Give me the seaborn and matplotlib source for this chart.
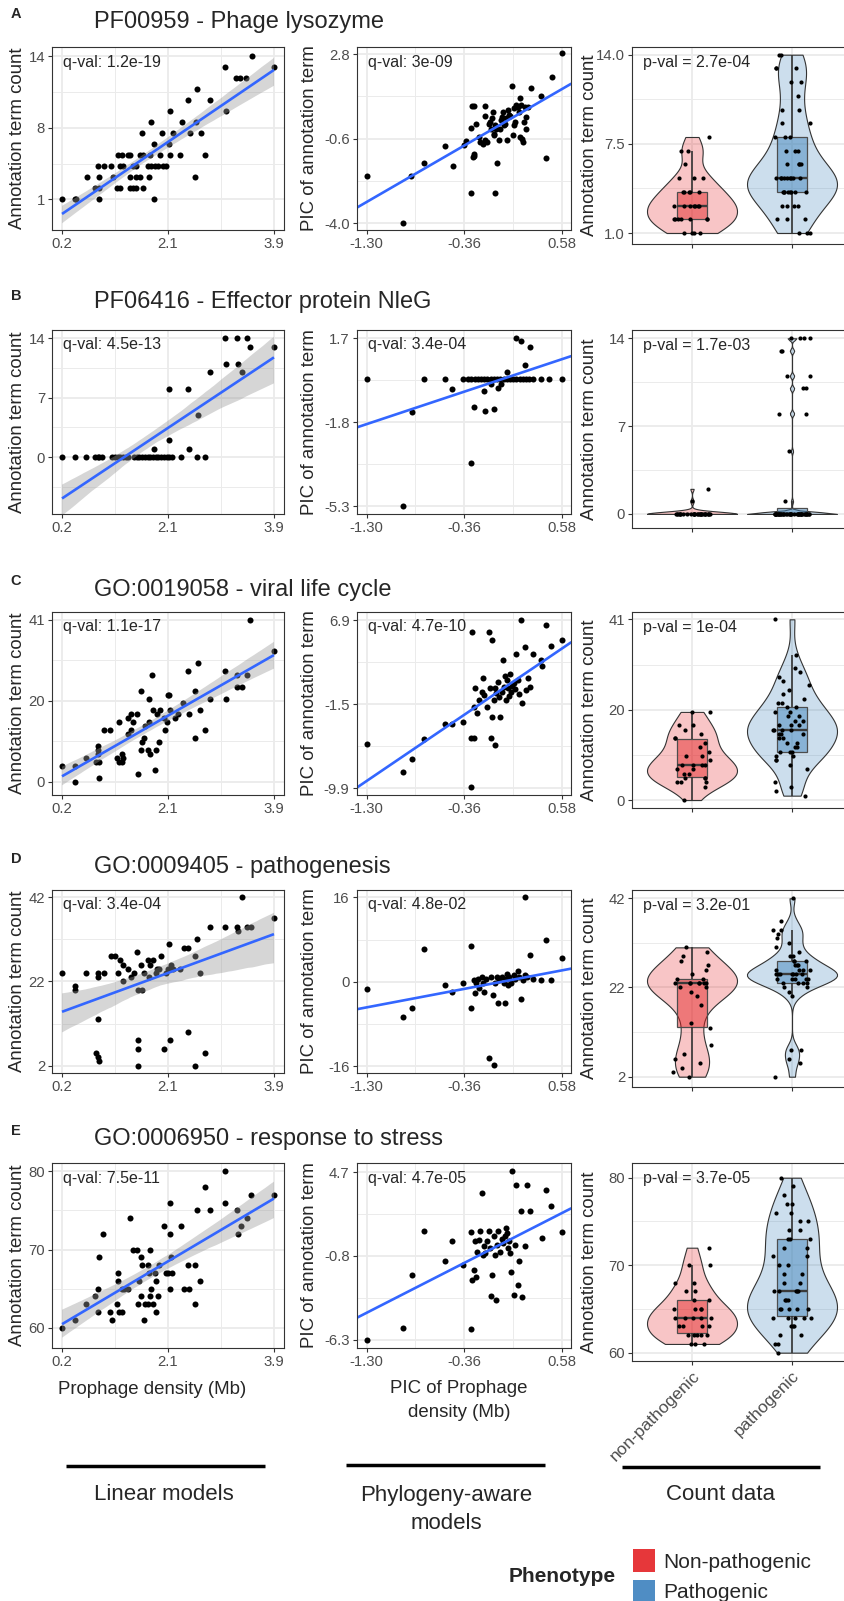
import numpy as np
import pandas as pd
import matplotlib
matplotlib.use("Agg")
import matplotlib.pyplot as plt
import matplotlib.colors as mcolors
from matplotlib.lines import Line2D
from matplotlib.patches import Rectangle
import seaborn as sns

# ---------------------------------------------------------------- data
TITLES = ["PF00959 - Phage lysozyme", "PF06416 - Effector protein NleG",
          "GO:0019058 - viral life cycle", "GO:0009405 - pathogenesis",
          "GO:0006950 - response to stress"]
LETTERS = ["A", "B", "C", "D", "E"]
Q_LIN = ["q-val: 1.2e-19", "q-val: 4.5e-13", "q-val: 1.1e-17", "q-val: 3.4e-04", "q-val: 7.5e-11"]
Q_PIC = ["q-val: 3e-09", "q-val: 3.4e-04", "q-val: 4.7e-10", "q-val: 4.8e-02", "q-val: 4.7e-05"]
P_CNT = ["p-val = 2.7e-04", "p-val = 1.7e-03", "p-val = 1e-04", "p-val = 3.2e-01", "p-val = 3.7e-05"]
PHENO = ["non-pathogenic", "pathogenic"]

LIN_XTICKS = [0.2, 2.05, 3.9]
LIN_XLABELS = ["0.2", "2.1", "3.9"]
PIC_XTICKS = [-1.30, -0.36, 0.58]
PIC_XLABELS = ["-1.30", "-0.36", "0.58"]
LIN_YTICKS = [[1, 7.5, 14], [0, 7, 14], [0, 20.5, 41], [2, 22, 42], [60, 70, 80]]
LIN_YLABELS = [["1", "8", "14"], ["0", "7", "14"], ["0", "20", "41"], ["2", "22", "42"], ["60", "70", "80"]]
PIC_YTICKS = [[-4.0, -0.6, 2.8], [-5.3, -1.8, 1.7], [-9.9, -1.5, 6.9], [-16, 0, 16], [-6.3, -0.8, 4.7]]
PIC_YLABELS = [["-4.0", "-0.6", "2.8"], ["-5.3", "-1.8", "1.7"], ["-9.9", "-1.5", "6.9"],
               ["-16", "0", "16"], ["-6.3", "-0.8", "4.7"]]
CNT_YTICKS = [[1, 7.5, 14], [0, 7, 14], [0, 20.5, 41], [2, 22, 42], [60, 70, 80]]
CNT_YLABELS = [["1.0", "7.5", "14.0"], ["0", "7", "14"], ["0", "20", "41"], ["2", "22", "42"], ["60", "70", "80"]]

# Linear models: prophage density vs annotation term count
A1_x = [0.20, 0.42, 0.44, 0.84, 1.80,
        0.77, 0.85, 1.16, 1.22, 1.39, 1.44, 1.50, 1.62,
        0.63, 0.85, 1.09, 1.39, 1.50, 1.56, 1.72, 2.52,
        0.82, 0.93, 1.06, 1.21, 1.27, 1.44, 1.50, 1.70, 1.76, 1.82, 1.88, 1.97, 2.02,
        1.18, 1.24, 1.35, 1.38, 1.56, 1.62, 1.73, 1.91, 2.08, 2.26, 2.69,
        1.80, 2.07, 1.59, 1.95, 2.13, 2.43, 2.62, 1.76, 2.29, 2.54,
        2.08, 3.07, 2.40, 2.78, 2.56, 3.24, 3.31, 3.42, 3.04, 3.90, 3.51]
A1_y = ([1] * 5 + [2] * 8 + [3] * 8 + [4] * 13 + [5] * 11 + [6] * 2 + [7] * 5 + [8] * 3 +
        [9] * 2 + [10] * 2 + [11] + [12] * 3 + [13] * 2 + [14])

B1_x = [0.20, 0.42, 0.61, 0.78, 0.82, 0.85, 0.89, 1.08, 1.13, 1.17, 1.22, 1.27, 1.32, 1.36,
        1.46, 1.51, 1.55, 1.60, 1.65, 1.70, 1.74, 1.79, 1.84, 1.88, 1.93, 1.98, 2.03, 2.07,
        2.12, 2.28, 2.55, 2.69,
        1.81, 2.42, 2.07, 2.57, 2.07, 2.40, 2.78, 3.35, 3.07, 3.28, 3.49, 3.90, 3.05, 3.26, 3.43]
B1_y = [0] * 32 + [1, 1, 2, 5, 8, 8, 10, 10, 11, 11, 13, 13, 14, 14, 14]

C1_x = [0.20, 0.42, 0.42, 0.61, 0.80, 0.82, 0.82, 0.82, 0.84, 0.84, 0.94, 1.03, 1.16, 1.19,
        1.25, 1.25, 1.27, 1.19, 1.35, 1.36, 1.41, 1.41, 1.44, 1.51, 1.53, 1.57, 1.57, 1.60,
        1.63, 1.65, 1.70, 1.72, 1.72, 1.74, 1.77, 1.79, 1.82, 1.84, 1.86, 1.89, 1.91, 1.98,
        1.99, 2.03, 2.05, 2.07, 2.08, 2.17, 2.22, 2.31, 2.40, 2.42, 2.52, 2.52, 2.58, 2.61,
        2.69, 2.78, 3.05, 3.07, 3.26, 3.26, 3.35, 3.43, 3.49, 3.90]
C1_y = [4, 4, 0, 6, 5, 9, 8, 7, 5, 1, 13, 13, 6, 5, 5, 7, 6, 15, 12, 16, 17, 13, 15, 17, 2, 8,
        23, 10, 11, 14, 8, 21, 15, 7, 27, 18, 3, 8, 17, 10, 18, 16, 13, 15, 22, 22, 18, 16,
        17, 20, 28, 17, 23, 11, 30, 18, 13, 21, 28, 21, 27, 24, 24, 27, 41, 33]

D1_x = [0.20, 0.42, 0.42, 0.61, 0.82, 0.82, 0.82, 0.80, 0.82, 0.84, 0.94, 1.06, 1.13, 1.17,
        1.22, 1.27, 1.27, 1.36, 1.41, 1.46, 1.51, 1.53, 1.53, 1.53, 1.53, 1.57, 1.60, 1.63,
        1.70, 1.72, 1.74, 1.79, 1.84, 1.86, 1.89, 1.93, 1.98, 2.01, 2.05, 2.07, 2.08, 2.10,
        2.14, 2.26, 2.33, 2.40, 2.40, 2.52, 2.52, 2.56, 2.61, 2.69, 2.78, 3.05, 3.26, 3.28,
        3.35, 3.43, 3.50, 3.90]
D1_y = [24, 21, 20, 24, 24, 23, 13, 5, 4, 3, 24, 28, 28, 24, 27, 26, 22, 25, 23, 24, 29, 20,
        8, 6, 2, 26, 20, 24, 27, 23, 26, 27, 24, 25, 25, 28, 6, 24, 25, 31, 8, 26, 25, 25,
        30, 30, 10, 28, 2, 32, 24, 5, 35, 35, 35, 34, 42, 35, 35, 37]

E1_x = [0.20, 0.42, 0.61, 0.78, 0.82, 0.82, 0.84, 0.91, 1.03, 1.08, 1.16, 1.17, 1.17, 1.19,
        1.25, 1.25, 1.29, 1.35, 1.38, 1.44, 1.51, 1.53, 1.55, 1.57, 1.57, 1.60, 1.63, 1.65,
        1.70, 1.70, 1.72, 1.74, 1.74, 1.76, 1.79, 1.82, 1.84, 1.84, 1.87, 1.89, 1.98, 2.01,
        2.05, 2.08, 2.08, 2.08, 2.10, 2.12, 2.27, 2.33, 2.40, 2.42, 2.52, 2.52, 2.56, 2.61,
        2.69, 2.78, 3.05, 3.05, 3.26, 3.28, 3.33, 3.43, 3.50, 3.90]
E1_y = [60, 61, 63, 64, 65, 62, 69, 72, 62, 61, 63, 66, 67, 62, 62, 65, 65, 65, 74, 70, 70,
        63, 66, 64, 69, 68, 61, 63, 63, 68, 67, 64, 70, 65, 63, 67, 66, 62, 64, 68, 73, 67,
        67, 65, 72, 76, 69, 67, 73, 65, 68, 65, 68, 63, 75, 66, 78, 75, 80, 76, 75, 72, 73,
        74, 77, 77]

# Phylogeny-aware models: PICs
A2_x = [-1.30, -0.953, -0.872, -0.747, -0.544, -0.474, -0.367, -0.342, -0.297, -0.277, -0.271,
        -0.265, -0.245, -0.287, -0.265, -0.297, -0.223, -0.207, -0.181, -0.165, -0.165, -0.159,
        -0.142, -0.126, -0.110, -0.104, -0.094, -0.085, -0.078, -0.072, -0.062, -0.052, -0.046,
        -0.065, -0.030, -0.020, -0.007, 0.002, 0.009, 0.018, 0.034, 0.044, 0.050, 0.057, 0.067,
        0.083, 0.099, 0.108, 0.115, 0.121, 0.131, 0.141, 0.153, 0.163, 0.173, 0.179, 0.186,
        0.195, 0.202, 0.211, 0.221, 0.231, 0.237, 0.250, 0.282, 0.372, 0.421, 0.485, 0.582]
A2_y = [-2.10, -4.00, -2.10, -1.58, -0.90, -1.69, -0.87, -0.71, -0.15, -1.35, -1.28, -1.21,
        0.01, 0.72, 0.72, -2.80, -0.53, -0.73, -0.80, 0.31, 0.72, -0.67, -0.73, 0.01, 0.08,
        -0.19, 0.22, 0.49, -0.39, -0.46, -0.05, -0.19, -1.59, -2.80, -0.67, -0.19, 0.15, 0.29,
        0.49, -0.05, 0.01, 0.24, -0.67, 0.56, 0.35, 0.33, 1.51, -0.46, -0.05, 0.63, 0.08, 0.76,
        0.69, 0.49, -0.53, 1.03, 0.76, -0.60, -0.73, 0.08, 0.69, 0.29, -0.19, 0.69, 1.44, 1.10,
        -1.39, 1.88, 2.84]

B2_x = [-1.30, -0.747, -0.551, -0.375, -0.324, -0.293, -0.262, -0.231, -0.200, -0.169, -0.138,
        -0.107, -0.076, -0.045, -0.014, 0.017, 0.048, 0.079, 0.110, 0.141, 0.172, 0.203, 0.234,
        0.265, 0.296, 0.374, 0.451, 0.580,
        -0.954, -0.866, -0.479, -0.298, -0.272, -0.169, -0.158, -0.107, -0.076, -0.040, -0.004,
        0.048, 0.141, 0.183, 0.275, 0.219]
B2_y = [0.0] * 28 + [-5.28, -1.38, -0.41, -3.49, -1.18, -0.49, -1.32, -0.21, -1.24, -0.38, -0.21,
                     0.29, 1.70, 1.59, 1.34, 0.59]

C2_x = [-1.30, -0.954, -0.866, -0.747, -0.551, -0.479, -0.375, -0.298, -0.298, -0.272, -0.283,
        -0.272, -0.262, -0.241, -0.220, -0.195, -0.179, -0.169, -0.143, -0.127, -0.117, -0.107,
        -0.096, -0.091, -0.076, -0.065, -0.065, -0.055, -0.040, -0.024, -0.014, -0.003, 0.012,
        0.017, 0.027, 0.038, 0.048, 0.058, 0.069, 0.079, 0.089, 0.100, 0.115, 0.131, 0.141,
        0.151, 0.167, 0.182, 0.193, 0.219, 0.234, 0.255, 0.275, 0.296, 0.374, 0.389, 0.420,
        0.477, 0.580]
C2_y = [-5.51, -8.24, -6.97, -4.98, -3.51, -3.51, -3.31, -9.73, -4.84, -4.84, 5.74, -1.75,
        0.08, -2.41, -1.08, -0.25, 1.08, -0.58, -1.75, 5.74, 0.08, -4.91, 4.97, -2.75, -1.08,
        -5.58, 0.08, -0.41, 0.75, -0.75, -2.75, -0.25, 2.91, 0.25, 1.31, -1.08, 0.91, 0.08,
        -0.68, 1.51, -0.25, 0.31, 0.58, -0.02, 3.57, 0.91, -0.49, 6.97, -1.42, 4.24, -0.09,
        1.08, 0.25, 3.57, 2.91, 2.31, 6.40, 4.31, 4.97]

D2_x = [-1.30, -0.954, -0.866, -0.747, -0.551, -0.479, -0.375, -0.298, -0.298, -0.272, -0.262,
        -0.251, -0.231, -0.220, -0.195, -0.179, -0.169, -0.148, -0.127, -0.107, -0.086, -0.076,
        -0.065, -0.045, -0.034, -0.024, -0.003, 0.017, 0.027, 0.038, 0.048, 0.058, 0.069,
        0.089, 0.115, 0.131, 0.151, 0.167, 0.182, 0.203, 0.219, 0.245, 0.275, 0.296, 0.374,
        0.420, 0.477, 0.580, 0.219]
D2_y = [-1.39, -6.77, -4.94, 6.14, -0.63, -1.90, -0.19, 6.84, -4.94, 0.32, -2.20, -0.32, 0.44,
        -1.27, 0.95, -0.19, -1.90, 0.44, -14.4, 0.95, -2.50, -15.8, -0.32, 0.95, -4.10, 0.32,
        0.95, -0.19, -4.10, 0.44, 1.46, -0.63, 0.95, -0.32, 1.27, 0.44, 2.09, 0.95, -3.20,
        0.32, 1.27, 0.95, 5.10, 0.44, 0.32, 8.00, 0.32, 4.43, 16.0]

E2_x = [-1.30, -0.954, -0.866, -0.747, -0.551, -0.479, -0.375, -0.298, -0.293, -0.282, -0.272,
        -0.262, -0.251, -0.241, -0.220, -0.205, -0.195, -0.179, -0.169, -0.158, -0.143, -0.127,
        -0.117, -0.107, -0.091, -0.076, -0.065, -0.055, -0.045, -0.034, -0.014, -0.003, 0.012,
        0.027, 0.038, 0.048, 0.058, 0.069, 0.079, 0.089, 0.100, 0.115, 0.131, 0.141, 0.151,
        0.167, 0.182, 0.193, 0.219, 0.245, 0.275, 0.389, 0.420, 0.477, 0.580]
E2_y = [-6.31, -5.50, -2.08, 0.85, -1.12, 0.19, -1.38, -5.58, 0.76, -2.37, -1.71, 0.15, -2.15,
        -0.51, 0.26, 0.81, 3.32, -0.73, -0.18, -0.62, 0.15, 0.81, -0.25, -3.42, -2.08, 0.48,
        -0.73, -3.68, -0.07, 0.81, -0.51, 0.32, 0.04, 0.48, 1.02, 0.70, -0.25, 0.15, -0.62,
        -1.82, 4.74, -3.35, -0.07, 3.87, -2.70, -1.16, 2.16, -3.46, -0.18, 3.87, 2.16, 0.37,
        3.54, 2.45, 0.76]

# Count data per phenotype
A_np = [1] * 4 + [2] * 7 + [3] * 7 + [4] * 5 + [5] * 3 + [6] + [7] * 2 + [8]
A_p = ([1] * 3 + [2] * 3 + [3] * 4 + [4] * 8 + [5] * 9 + [6] * 4 + [7] * 3 + [8] * 3 + [9] * 2 +
       [10] * 2 + [11] + [12] * 2 + [13] * 3 + [14] * 2)
B_np = [0] * 28 + [1, 2]
B_p = [0] * 41 + [1, 5, 8, 8, 10, 10, 11, 11, 13, 13, 14, 14, 14, 14]
C_np = [0, 3, 4, 4, 4, 5, 5, 5, 6, 6, 7, 7, 8, 8, 8, 8, 9, 10, 10, 11, 12, 13, 14, 14, 15, 16,
        17, 17, 20, 20]
C_p = [1, 2, 3, 4, 7, 8, 9, 9, 10, 10, 11, 11, 11, 12, 12, 13, 13, 14, 14, 15, 15, 15, 16, 16,
       16, 16, 17, 17, 17, 18, 18, 19, 19, 20, 20, 21, 21, 22, 22, 23, 24, 25, 26, 27, 28, 29,
       30, 33, 41]
D_np = [2, 3, 4, 5, 6, 7, 9, 13, 14, 18, 20, 21, 22, 22, 23, 23, 23, 23, 23, 23, 23, 24, 24,
        25, 26, 27, 28, 29, 30, 31]
D_p = [2, 5, 6, 8, 8, 20, 21, 22, 22, 23, 23, 23, 23, 24, 24, 24, 24, 24, 25, 25, 25, 25, 25,
       25, 25, 26, 26, 26, 26, 27, 27, 27, 28, 28, 28, 29, 29, 30, 31, 32, 33, 34, 35, 35, 37, 42]
E_np = [61, 61, 61, 62, 62, 62, 62, 62, 63, 63, 63, 63, 64, 64, 64, 64, 64, 65, 65, 65, 65, 66,
        66, 67, 67, 68, 68, 70, 70, 72]
E_p = [60, 61, 61, 62, 62, 63, 63, 63, 64, 64, 64, 64, 64, 65, 65, 65, 65, 65, 66, 66, 66, 67,
       67, 67, 67, 67, 68, 68, 69, 69, 70, 70, 71, 71, 72, 72, 73, 73, 73, 74, 74, 75, 75, 76,
       76, 77, 77, 78, 79, 80]

LIN = [(A1_x, A1_y), (B1_x, B1_y), (C1_x, C1_y), (D1_x, D1_y), (E1_x, E1_y)]
PIC = [(A2_x, A2_y), (B2_x, B2_y), (C2_x, C2_y), (D2_x, D2_y), (E2_x, E2_y)]
CNT = [(A_np, A_p), (B_np, B_p), (C_np, C_p), (D_np, D_p), (E_np, E_p)]

# ---------------------------------------------------------------- layout / style
LIN_YLIM = [(-1.8, 14.85), (-6.71, 14.98), (-3.37, 42.9), (0.26, 43.7), (57.4, 81.07)]
PIC_YLIM = [(-4.27, 3.09), (-5.62, 2.05), (-10.57, 7.73), (-17.3, 17.4), (-6.83, 5.29)]
CNT_YLIM = [(0.2, 14.56), (-1.12, 14.66), (-1.8, 42.66), (-0.31, 43.86), (59.05, 81.68)]
LIN_XLIM = (0.025, 4.075)
PIC_XLIM = (-1.397, 0.665)
ROWS = [dict(t=47, b=230, vb=244, ty=22, ly=14),
        dict(t=330, b=514, vb=528, ty=302, ly=296),
        dict(t=612, b=795, vb=808, ty=590, ly=581),
        dict(t=890, b=1073, vb=1087, ty=867, ly=859),
        dict(t=1163, b=1348, vb=1361, ty=1139, ly=1131)]
COLS = [(52, 284), (356.5, 571), (632, 852)]
YLAB_X = [18, 310, 589]

RED = "#E41A1C"
BLUE = "#377EB8"
LINE_BLUE = "#3366FF"
GRID = "#EBEBEB"
TICK_C = "#4D4D4D"
FS_TICK, FS_AX, FS_ANN = 10.7, 13.4, 11.5

sns.set_style("white")
plt.rcParams["font.family"] = ["Liberation Sans", "DejaVu Sans"]

W, H = 844, 1601
fig = plt.figure(figsize=(W / 100, H / 100), dpi=100)


def fx(px):
    return px / W


def fy(py):
    return 1 - py / H


def add_ax(l, r, t, b):
    return fig.add_axes([l / W, 1 - b / H, (r - l) / W, (b - t) / H])


def minor_breaks(ticks, lim):
    step = ticks[1] - ticks[0]
    cands = [ticks[0] - step / 2] + [(a + b) / 2 for a, b in zip(ticks[:-1], ticks[1:])] + \
            [ticks[-1] + (ticks[-1] - ticks[-2]) / 2]
    return [c for c in cands if lim[0] < c < lim[1]]


def style(ax, xlim, xticks, xlabels, ylim, yticks, ylabels, xminor=True):
    ax.set_xlim(xlim)
    ax.set_ylim(ylim)
    ax.set_xticks(xticks)
    ax.set_xticklabels(xlabels)
    ax.set_yticks(yticks)
    ax.set_yticklabels(ylabels)
    for v in yticks:
        ax.axhline(v, color=GRID, lw=1.3, zorder=0.5)
    for v in minor_breaks(yticks, ylim):
        ax.axhline(v, color=GRID, lw=0.7, zorder=0.5)
    for v in xticks:
        ax.axvline(v, color=GRID, lw=1.3, zorder=0.5)
    if xminor:
        for v in minor_breaks(xticks, xlim):
            ax.axvline(v, color=GRID, lw=0.7, zorder=0.5)
    for s in ax.spines.values():
        s.set_color("#333333")
        s.set_linewidth(0.8)
        s.set_zorder(6)
    ax.tick_params(axis="both", which="major", length=3, width=0.8, color="#333333",
                   labelsize=FS_TICK, labelcolor=TICK_C, pad=2, direction="out",
                   bottom=True, left=True)
    ax.set_xlabel("")
    ax.set_ylabel("")
    ax.grid(False)


def annotate(ax, text):
    ax.annotate(text, xy=(0, 1), xycoords="axes fraction", xytext=(11, -15),
                textcoords="offset pixels", ha="left", va="center", fontsize=FS_ANN, zorder=7)


def nrd0(v):
    v = np.asarray(v, float)
    hi = v.std(ddof=1)
    q75, q25 = np.percentile(v, [75, 25])
    lo = min(hi, (q75 - q25) / 1.34)
    if lo == 0:
        lo = hi
    return 0.9 * lo * len(v) ** -0.2


np.random.seed(3)

for i, row in enumerate(ROWS):
    # letter + title
    fig.text(fx(16), fy(row["ly"]), LETTERS[i], ha="center", va="center",
             fontsize=10.5, fontweight="bold")
    fig.text(fx(94), fy(row["ty"]), TITLES[i], ha="left", va="center", fontsize=17)

    # ---- linear model panel
    ax = add_ax(COLS[0][0], COLS[0][1], row["t"], row["b"])
    xs, ys = np.array(LIN[i][0], float), np.array(LIN[i][1], float)
    sns.scatterplot(x=xs, y=ys, color="black", s=19, linewidth=0, ax=ax, zorder=2)
    n0 = len(ax.collections)
    sns.regplot(x=xs, y=ys, scatter=False, ci=95, color=LINE_BLUE, seed=1, truncate=True,
                line_kws=dict(lw=1.9, zorder=4, solid_capstyle="butt"), ax=ax)
    for c in ax.collections[n0:]:
        c.set_alpha(0.4)
        c.set_facecolor((0.6, 0.6, 0.6))
        c.set_edgecolor("none")
        c.set_zorder(3)
    style(ax, LIN_XLIM, LIN_XTICKS, LIN_XLABELS, LIN_YLIM[i], LIN_YTICKS[i], LIN_YLABELS[i])
    annotate(ax, Q_LIN[i])
    fig.text(fx(YLAB_X[0]), fy((row["t"] + row["b"]) / 2), "Annotation term count",
             rotation=90, ha="center", va="center", fontsize=FS_AX)

    # ---- PIC panel
    ax = add_ax(COLS[1][0], COLS[1][1], row["t"], row["b"])
    xs, ys = np.array(PIC[i][0], float), np.array(PIC[i][1], float)
    sns.scatterplot(x=xs, y=ys, color="black", s=19, linewidth=0, ax=ax, zorder=2)
    slope = np.sum(xs * ys) / np.sum(xs * xs)
    ax.axline((0, 0), slope=slope, color=LINE_BLUE, lw=1.9, zorder=4)
    style(ax, PIC_XLIM, PIC_XTICKS, PIC_XLABELS, PIC_YLIM[i], PIC_YTICKS[i], PIC_YLABELS[i])
    annotate(ax, Q_PIC[i])
    fig.text(fx(YLAB_X[1]), fy((row["t"] + row["b"]) / 2), "PIC of annotation term",
             rotation=90, ha="center", va="center", fontsize=FS_AX)

    # ---- count data panel
    ax = add_ax(COLS[2][0], COLS[2][1], row["t"], row["vb"])
    npv, pv = CNT[i]
    df = pd.DataFrame({"phen": [PHENO[0]] * len(npv) + [PHENO[1]] * len(pv),
                       "val": list(npv) + list(pv)})
    for cat, col in zip(PHENO, [RED, BLUE]):
        sub = df[df.phen == cat]
        v = sub.val.values.astype(float)
        bw = nrd0(v) / v.std(ddof=1)
        n0 = len(ax.collections)
        sns.violinplot(data=sub, x="phen", y="val", order=PHENO, color=col, saturation=1,
                       cut=0, inner=None, density_norm="width", width=0.9, bw_method=bw,
                       linewidth=0.8, linecolor="#333333", ax=ax)
        for c in ax.collections[n0:]:
            c.set_facecolor(mcolors.to_rgba(col, 0.25))
            c.set_zorder(1.5)
        p0 = len(ax.patches)
        sns.boxplot(data=sub, x="phen", y="val", order=PHENO, width=0.3, showfliers=False,
                    color=col, saturation=1, linewidth=0.9, linecolor="#4D4D4D",
                    medianprops=dict(color="#3A3A3A", linewidth=1.7),
                    whiskerprops=dict(color="#333333", linewidth=1.2),
                    capprops=dict(linewidth=0), ax=ax)
        for p in ax.patches[p0:]:
            p.set_facecolor(mcolors.to_rgba(col, 0.45))
            p.set_zorder(2.5)
        for ln in ax.lines:
            if ln.get_zorder() < 2.6:
                ln.set_zorder(2.6)
    for cat in PHENO:
        sub = df[df.phen == cat]
        sns.stripplot(data=sub, x="phen", y="val", order=PHENO, color="black", size=3.0,
                      jitter=0.19, ax=ax, zorder=4)
    style(ax, (-0.6, 1.6), [0, 1], ["", ""], CNT_YLIM[i], CNT_YTICKS[i], CNT_YLABELS[i],
          xminor=False)
    if i == 4:
        ax.set_xticklabels(PHENO, rotation=45, ha="right", rotation_mode="anchor",
                           fontsize=12.5, color=TICK_C)
    annotate(ax, P_CNT[i])
    fig.text(fx(YLAB_X[2]), fy((row["t"] + row["vb"]) / 2), "Annotation term count",
             rotation=90, ha="center", va="center", fontsize=FS_AX)

# ---------------------------------------------------------------- bottom annotations
fig.text(fx(152), fy(1389), "Prophage density (Mb)", ha="center", va="center", fontsize=FS_AX)
fig.text(fx(459), fy(1388), "PIC of Prophage", ha="center", va="center", fontsize=FS_AX)
fig.text(fx(459), fy(1412), "density (Mb)", ha="center", va="center", fontsize=FS_AX)

for (x0, x1, yy) in [(66, 265, 1466), (346, 545, 1465), (622, 820, 1467)]:
    fig.add_artist(Line2D([fx(x0), fx(x1)], [fy(yy), fy(yy)], color="black", lw=2.5,
                          transform=fig.transFigure, solid_capstyle="butt"))
fig.text(fx(164), fy(1494), "Linear models", ha="center", va="center", fontsize=16)
fig.text(fx(446), fy(1495), "Phylogeny-aware", ha="center", va="center", fontsize=16)
fig.text(fx(446), fy(1523), "models", ha="center", va="center", fontsize=16)
fig.text(fx(720), fy(1494), "Count data", ha="center", va="center", fontsize=16)

# legend
fig.text(fx(509), fy(1576), "Phenotype", ha="left", va="center", fontsize=15, fontweight="bold")
for (yt, yb, col, lab, ty) in [(1549, 1572, "#E6373A", "Non-pathogenic", 1562),
                                (1580, 1603, "#4F8DC4", "Pathogenic", 1592)]:
    fig.add_artist(Rectangle((fx(633), fy(yb)), (655 - 633) / W, (yb - yt) / H,
                             transform=fig.transFigure, facecolor=col, edgecolor="none"))
    fig.text(fx(663), fy(ty), lab, ha="left", va="center", fontsize=15)

fig.savefig("out.png", dpi=100)
